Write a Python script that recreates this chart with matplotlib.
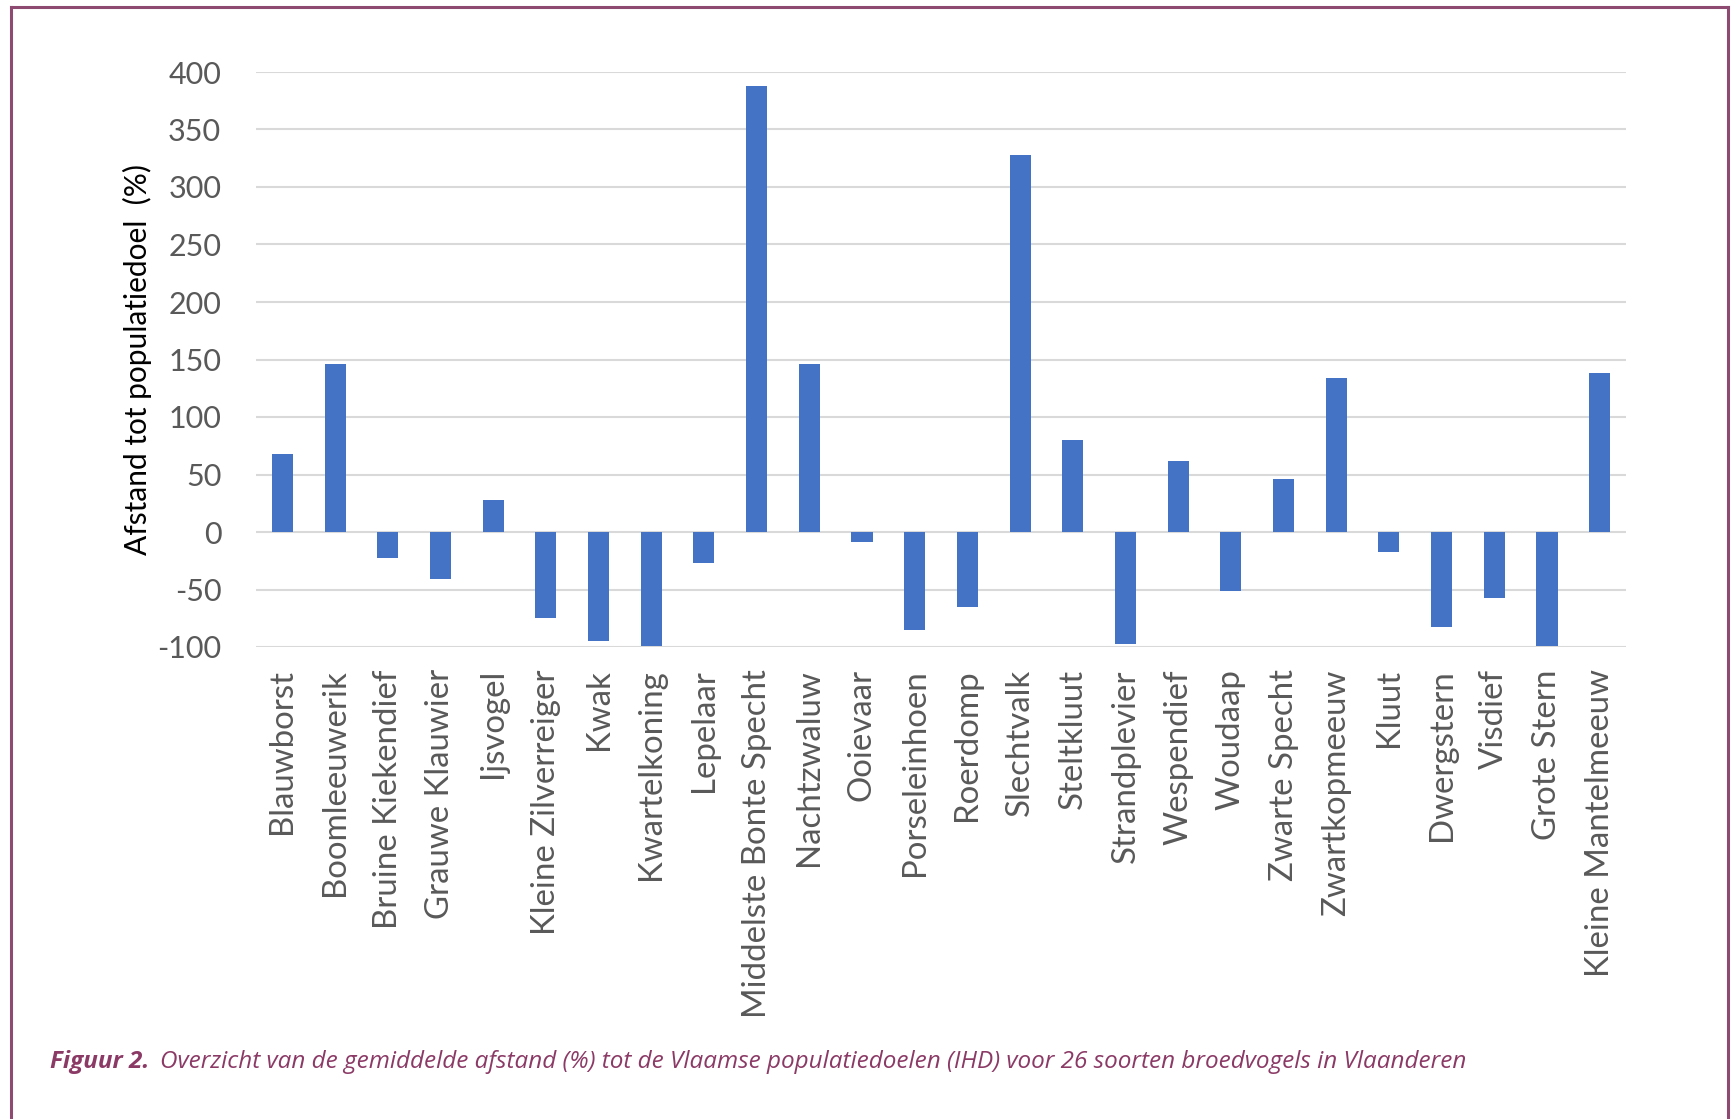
import matplotlib.pyplot as plt
from matplotlib.lines import Line2D
import numpy as np

# species and their mean distance to the population target (%)
soorten = [
    "Blauwborst", "Boomleeuwerik", "Bruine Kiekendief", "Grauwe Klauwier",
    "Ijsvogel", "Kleine Zilverreiger", "Kwak", "Kwartelkoning", "Lepelaar",
    "Middelste Bonte Specht", "Nachtzwaluw", "Ooievaar", "Porseleinhoen",
    "Roerdomp", "Slechtvalk", "Steltkluut", "Strandplevier", "Wespendief",
    "Woudaap", "Zwarte Specht", "Zwartkopmeeuw", "Kluut", "Dwergstern",
    "Visdief", "Grote Stern", "Kleine Mantelmeeuw",
]
afstand = [
    68, 146, -23, -41, 28, -75, -95, -99, -27, 388, 146, -9, -85,
    -65, 328, 80, -97, 62, -51, 46, 134, -17, -83, -57, -99, 138,
]
y_ticks = [-100, -50, 0, 50, 100, 150, 200, 250, 300, 350, 400]

caption_bold = "Figuur 2."
caption_text = ("Overzicht van de gemiddelde afstand (%) tot de Vlaamse "
                "populatiedoelen (IHD) voor 26 soorten broedvogels in Vlaanderen")

plt.rcParams["font.family"] = ["Lato", "DejaVu Sans"]

W, H = 1735, 1119
fig = plt.figure(figsize=(W / 100, H / 100), dpi=100)

# axes placed in pixel terms
left, right, top, bottom = 256, 1626, 72, 647
ax = fig.add_axes([left / W, 1 - bottom / H, (right - left) / W, (bottom - top) / H])

x = np.arange(len(soorten))
ax.bar(x, afstand, width=0.4, color="#4472C4", zorder=3)

ax.set_xlim(-0.5, len(soorten) - 0.5)
ax.set_ylim(-100, 400)
ax.set_yticks(y_ticks)
ax.set_yticklabels([str(v) for v in y_ticks])
ax.set_xticks(x)
ax.set_xticklabels(soorten, rotation=90, va="top", ha="center")

ax.grid(axis="y", color="#D9D9D9", linewidth=1.5, zorder=0)
for s in ax.spines.values():
    s.set_visible(False)
ax.tick_params(axis="y", length=0, labelsize=22, labelcolor="#595959", pad=25)
ax.tick_params(axis="x", length=0, labelsize=23.8, labelcolor="#595959", pad=16)

ax.set_ylabel("Afstand tot populatiedoel  (%)", fontsize=21.5, color="black", labelpad=4)

# caption under the chart
cap_color = "#8B3A66"
t1 = fig.text(50 / W, 1 - 1062 / H, caption_bold, fontsize=17.5, fontweight="bold",
              fontstyle="italic", color=cap_color, family="Open Sans", va="center")
fig.canvas.draw()
bb = t1.get_window_extent()
fig.text((bb.x1 + 11) / W, 1 - 1062 / H, caption_text, fontsize=17.5,
         fontstyle="italic", color=cap_color, family="Open Sans", va="center")

# frame around the figure (open at the bottom)
frame = "#8E4A70"
lx, rx, ty = 11 / W, 1728 / W, 1 - 7 / H
fig.add_artist(Line2D([lx, lx], [0, ty], color=frame, lw=2.2, transform=fig.transFigure))
fig.add_artist(Line2D([lx, rx], [ty, ty], color=frame, lw=2.2, transform=fig.transFigure))
fig.add_artist(Line2D([rx, rx], [ty, 0], color=frame, lw=2.2, transform=fig.transFigure))

fig.savefig("out.png", dpi=100)
